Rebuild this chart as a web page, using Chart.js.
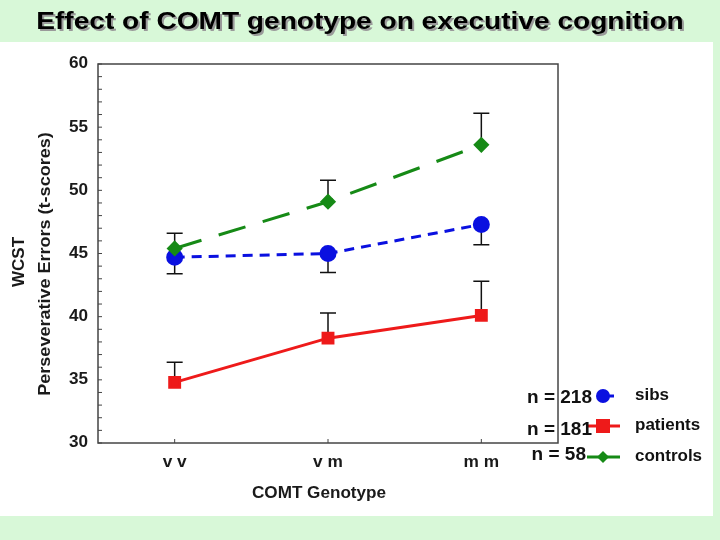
<!DOCTYPE html>
<html>
<head>
<meta charset="utf-8">
<script src="https://cdn.jsdelivr.net/npm/chart.js@4/dist/chart.umd.min.js"></script>
<style>
html,body{margin:0;padding:0;background:#d8f8d8;}
#wrap{width:720px;height:540px;position:relative;}
</style>
</head>
<body>
<div id="wrap"><canvas id="c" width="720" height="540"></canvas></div>
<script>
const categories = ["v v", "v m", "m m"];
const controls = [45.4, 49.1, 53.6];
const sibs = [44.7, 45.0, 47.3];
const patients = [34.8, 38.3, 40.1];
const controlsErrHigh = [46.6, 50.8, 56.1];
const sibsErrLow = [43.4, 43.5, 45.7];
const patientsErrHigh = [36.4, 40.3, 42.8];
const yTickLabels = ["30", "35", "40", "45", "50", "55", "60"];
const legendLabels = ["sibs", "patients", "controls"];
const legendCounts = ["n = 218", "n = 181", "n = 58"];
const titleText = "Effect of COMT genotype on executive cognition";
const yTitle = ["WCST", "Perseverative Errors (t-scores)"];
const xTitle = "COMT Genotype";

const GREEN = "#168a16", BLUE = "#0a10e0", RED = "#ee1a1a";
const FONT = "Liberation Sans, Arial, sans-serif";

function stretchText(ctx, text, x, y, sx, align) {
  ctx.save();
  ctx.translate(x, y);
  ctx.scale(sx, 1);
  ctx.textAlign = align;
  ctx.fillText(text, 0, 0);
  ctx.restore();
}

const decor = {
  id: "decor",
  beforeDraw(chart) {
    const ctx = chart.ctx;
    ctx.save();
    ctx.fillStyle = "#d8f8d8";
    ctx.fillRect(0, 0, 720, 540);
    ctx.fillStyle = "#ffffff";
    ctx.fillRect(0, 42, 713, 474);
    ctx.restore();
  },
  beforeDatasetsDraw(chart) {
    const ctx = chart.ctx, x = chart.scales.x, y = chart.scales.y;
    ctx.save();
    ctx.strokeStyle = "#111";
    ctx.lineWidth = 1.5;
    const bars = [[controls, controlsErrHigh], [sibs, sibsErrLow], [patients, patientsErrHigh]];
    bars.forEach(([vals, errs]) => {
      vals.forEach((v, i) => {
        const px = x.getPixelForValue(i);
        const p0 = y.getPixelForValue(v), p1 = y.getPixelForValue(errs[i]);
        ctx.beginPath();
        ctx.moveTo(px, p0); ctx.lineTo(px, p1);
        ctx.moveTo(px - 8, p1); ctx.lineTo(px + 8, p1);
        ctx.stroke();
      });
    });
    ctx.restore();
  },
  afterDraw(chart) {
    const ctx = chart.ctx, a = chart.chartArea, x = chart.scales.x, y = chart.scales.y;
    ctx.save();
    ctx.strokeStyle = "#444";
    ctx.lineWidth = 1.5;
    ctx.strokeRect(a.left, a.top, a.right - a.left, a.bottom - a.top);
    ctx.lineWidth = 1;
    for (let v = y.min; v <= y.max; v += 1) {
      const py = y.getPixelForValue(v);
      ctx.beginPath(); ctx.moveTo(a.left, py); ctx.lineTo(a.left + 4, py); ctx.stroke();
    }
    categories.forEach((c, i) => {
      const px = x.getPixelForValue(i);
      ctx.beginPath(); ctx.moveTo(px, a.bottom); ctx.lineTo(px, a.bottom - 4); ctx.stroke();
    });
    ctx.textBaseline = "middle";
    ctx.fillStyle = "#1a1a1a";
    ctx.font = "bold 16px " + FONT;
    yTickLabels.forEach(t => {
      stretchText(ctx, t, 88, y.getPixelForValue(Number(t)), 1.07, "right");
    });
    categories.forEach((c, i) => {
      stretchText(ctx, c, x.getPixelForValue(i), 463, 1.08, "center");
    });
    ctx.font = "bold 24px " + FONT;
    ctx.fillStyle = "#9a9a9a";
    stretchText(ctx, titleText, 362, 24, 1.17, "center");
    ctx.fillStyle = "#000";
    stretchText(ctx, titleText, 360, 22, 1.17, "center");
    ctx.textAlign = "center";
    ctx.fillStyle = "#1a1a1a";
    ctx.font = "bold 17px " + FONT;
    ctx.save();
    ctx.translate(19, 262); ctx.rotate(-Math.PI / 2);
    ctx.fillText(yTitle[0], 0, 0);
    ctx.restore();
    ctx.save();
    ctx.translate(45, 264); ctx.rotate(-Math.PI / 2);
    ctx.scale(1.06, 1);
    ctx.fillText(yTitle[1], 0, 0);
    ctx.restore();
    ctx.font = "bold 16px " + FONT;
    stretchText(ctx, xTitle, 319, 494, 1.07, "center");
    const cols = [BLUE, RED, GREEN];
    const ys = [396, 426, 457];
    const countX = [592, 592, 586];
    const countY = [398, 430, 455];
    ctx.lineWidth = 3;
    for (let i = 0; i < 3; i++) {
      ctx.strokeStyle = cols[i]; ctx.fillStyle = cols[i];
      ctx.beginPath();
      ctx.moveTo(i === 0 ? 600 : 587, ys[i]); ctx.lineTo(i === 0 ? 614 : 620, ys[i]);
      ctx.stroke();
      if (i === 0) { ctx.beginPath(); ctx.arc(603, ys[i], 7, 0, Math.PI * 2); ctx.fill(); }
      else if (i === 1) { ctx.fillRect(596, ys[i] - 7, 14, 14); }
      else { ctx.beginPath(); ctx.moveTo(603, ys[i] - 6); ctx.lineTo(609, ys[i]); ctx.lineTo(603, ys[i] + 6); ctx.lineTo(597, ys[i]); ctx.closePath(); ctx.fill(); }
      ctx.fillStyle = "#111";
      ctx.font = "bold 17px " + FONT;
      ctx.textAlign = "left";
      ctx.fillText(legendLabels[i], 635, ys[i] - 1);
      ctx.font = "bold 19px " + FONT;
      ctx.textAlign = "right";
      ctx.fillText(legendCounts[i], countX[i], countY[i]);
    }
    ctx.restore();
  }
};

new Chart(document.getElementById("c"), {
  type: "line",
  data: {
    labels: categories,
    datasets: [
      { label: "controls", data: controls, borderColor: GREEN, backgroundColor: GREEN, borderWidth: 3,
        borderDash: [28, 18], pointStyle: "rectRot", pointRadius: 6, pointHoverRadius: 6 },
      { label: "sibs", data: sibs, borderColor: BLUE, backgroundColor: BLUE, borderWidth: 3,
        borderDash: [10, 7], pointStyle: "circle", pointRadius: 7, pointHoverRadius: 7 },
      { label: "patients", data: patients, borderColor: RED, backgroundColor: RED, borderWidth: 3,
        pointStyle: "rect", pointRadius: 7, pointHoverRadius: 7 }
    ]
  },
  options: {
    responsive: false,
    animation: false,
    layout: { padding: { left: 0, right: 162, top: 64, bottom: 0 } },
    plugins: { legend: { display: false }, title: { display: false }, tooltip: { enabled: false } },
    scales: {
      x: {
        offset: true,
        grid: { display: false, drawTicks: false },
        border: { display: false },
        ticks: { display: false },
        afterFit(s) { s.height = 97; }
      },
      y: {
        min: 30, max: 60,
        grid: { display: false, drawTicks: false },
        border: { display: false },
        ticks: { display: false, stepSize: 5 },
        afterFit(s) { s.width = 98; }
      }
    }
  },
  plugins: [decor]
});
</script>
</body>
</html>
